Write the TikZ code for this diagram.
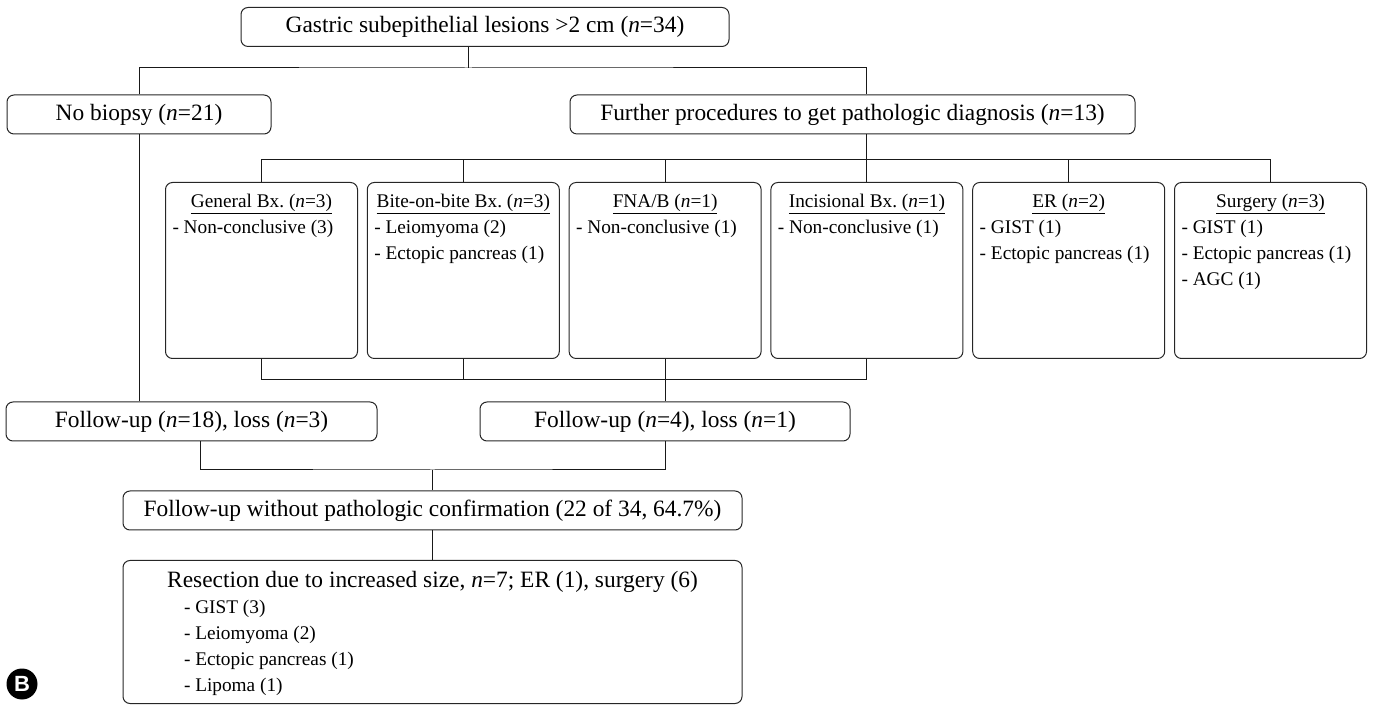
\documentclass[tikz,border=0pt]{standalone}
\usepackage{fontspec}
\setmainfont{Liberation Serif}
\setsansfont{Liberation Sans}
\usetikzlibrary{positioning,calc}
\newcommand{\bigtxt}{\fontsize{23.4}{26}\selectfont}
\newcommand{\smalltxt}{\fontsize{19.3}{26}\selectfont}
\newcommand{\proctext}[2]{\parbox[c][176pt][t]{178pt}{\centering\rule{0pt}{25.5pt}\underline{#1}\par\raggedright #2}}
\tikzset{
  flowbox/.style={
    draw=black!85, rounded corners=7pt, line width=1pt, inner sep=0pt,
    minimum height=39pt, font=\bigtxt, align=center
  },
  procbox/.style={flowbox, anchor=north west, minimum width=192pt, minimum height=176pt, font=\smalltxt},
  link/.style={draw=black!90, line width=1pt},
  panel/.style={circle, fill=black, inner sep=0pt, minimum size=31pt, text=white,
    font=\sffamily\bfseries\fontsize{22}{22}\selectfont}
}
\begin{document}
\begin{tikzpicture}[x=1pt, y=1pt]
  \useasboundingbox (0,0) rectangle (1375,704);
  % top levels
  \node[flowbox, minimum width=488pt] (lesions) at (485,677)
    {Gastric subepithelial lesions >2 cm (\textit{n}=34)};
  \node[flowbox, minimum width=264pt] (nobiopsy) at (139,589.5)
    {No biopsy (\textit{n}=21)};
  \node[flowbox, minimum width=565pt] (further) at (852.5,589.5)
    {Further procedures to get pathologic diagnosis (\textit{n}=13)};
  % procedure boxes
  \foreach \i/\nm/\ttl/\items in {
    0/gen/{General Bx.\ (\textit{n}=3)}/{- Non-conclusive (3)},
    1/bob/{Bite-on-bite Bx.\ (\textit{n}=3)}/{- Leiomyoma (2)\\- Ectopic pancreas (1)},
    2/fna/{FNA/B (\textit{n}=1)}/{- Non-conclusive (1)},
    3/inc/{Incisional Bx.\ (\textit{n}=1)}/{- Non-conclusive (1)},
    4/er/{ER (\textit{n}=2)}/{- GIST (1)\\- Ectopic pancreas (1)},
    5/surg/{Surgery (\textit{n}=3)}/{- GIST (1)\\- Ectopic pancreas (1)\\- AGC (1)}}{
    \node[procbox] (\nm) at (165+201.8*\i,522) {\proctext{\ttl}{\items}};
  }
  % follow-up
  \node[flowbox, minimum width=371pt] (fuA) at (191.5,282.5)
    {Follow-up (\textit{n}=18), loss (\textit{n}=3)};
  \node[flowbox, minimum width=370pt] (fuB) at (665,282.5)
    {Follow-up (\textit{n}=4), loss (\textit{n}=1)};
  \node[flowbox, minimum width=619pt] (nopath) at (432.5,193.5)
    {Follow-up without pathologic confirmation (22 of 34, 64.7\%)};
  \node[flowbox, anchor=north, minimum width=619pt, minimum height=143pt] (resect) at (432.5,144)
    {\parbox[c][143pt][t]{535pt}{\centering\rule{0pt}{27pt}Resection due to increased size,
      \textit{n}=7; ER (1), surgery (6)\par
      \raggedright\smalltxt\leftskip=19pt
      - GIST (3)\\- Leiomyoma (2)\\- Ectopic pancreas (1)\\- Lipoma (1)}};
  \node[panel] (tag) at (22,20) {B};
  % connectors
  \coordinate (j1) at (468,636);
  \coordinate (j2) at (0,544);
  \coordinate (j3) at (0,324);
  \coordinate (j4) at (432.5,234);
  \draw[link] (j1 |- lesions.south) -- (j1);
  \draw[link] (nobiopsy.north) |- (j1) -| (inc.north |- further.north);
  \draw[link] (further.south -| inc.north) -- (inc.north);
  \draw[link] (gen.north) |- (surg.north |- j2) -- (surg.north);
  \foreach \nm in {bob,fna,er}
    \draw[link] (\nm.north) -- (\nm.north |- j2);
  \draw[link] (gen.south) |- (inc.south |- j3) -- (inc.south);
  \draw[link] (bob.south) -- (bob.south |- j3);
  \draw[link] (fna.south) -- (fna.south |- fuB.north);
  \draw[link] (nobiopsy.south) -- (nobiopsy.south |- fuA.north);
  \draw[link] ([xshift=8.5pt]fuA.south) |- (j4) -| (fuB.south);
  \draw[link] (j4) -- (nopath.north);
  \draw[link] (nopath.south) -- (resect.north);
\end{tikzpicture}
\end{document}
